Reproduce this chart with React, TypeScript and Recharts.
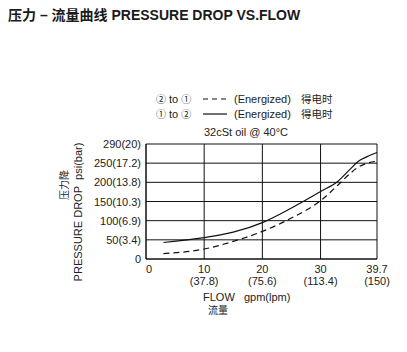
import React from "react";
import { LineChart, Line, XAxis, YAxis, CartesianGrid } from "recharts";

// flow (gpm) vs pressure drop (psi)
const flowGpm = [3, 10, 15, 20, 25, 30, 33, 35, 36.5, 38, 39.7];
const solidPsi = [43, 56, 70, 95, 133, 176, 203, 233, 255, 267, 278];
const dashedPsi = [14, 26, 46, 72, 107, 152, 193, 222, 240, 250, 255];

const xTicks = [0, 10, 20, 30, 39.7];
const xTickTop = ["0", "10", "20", "30", "39.7"];
const xTickBottom = ["", "(37.8)", "(75.6)", "(113.4)", "(150)"];

// the printed axis is evenly spaced; top line is labelled 290(20)
const yTicks = [0, 50, 100, 150, 200, 250, 300];
const yTickLabels = ["0", "50(3.4)", "100(6.9)", "150(10.3)", "200(13.8)", "250(17.2)", "290(20)"];

const data = flowGpm.map((f, i) => ({ flow: f, solid: solidPsi[i], dashed: dashedPsi[i] }));

const FONT = '"Liberation Sans", Arial, "Noto Sans CJK SC", sans-serif';
const CJK = '"Noto Sans CJK SC", "Liberation Sans", sans-serif';

const XTick = (props: any) => {
  const { x, y, payload } = props;
  const i = xTicks.indexOf(payload.value);
  return (
    <g>
      <text x={i === 0 ? x + 3 : x} y={y + 6} textAnchor="middle" fontSize={11} fill="#222" fontFamily={FONT}>
        {xTickTop[i]}
      </text>
      <text x={x} y={y + 18} textAnchor="middle" fontSize={11} fill="#222" fontFamily={FONT}>
        {xTickBottom[i]}
      </text>
    </g>
  );
};

const YTick = (props: any) => {
  const { x, y, payload } = props;
  const i = yTicks.indexOf(payload.value);
  return (
    <text x={x + 3} y={y + 4} textAnchor="end" fontSize={11} fill="#222" fontFamily={FONT}>
      {yTickLabels[i]}
    </text>
  );
};

const abs = (left: number, top: number, extra: any = {}) => ({
  position: "absolute" as const,
  left,
  top,
  fontFamily: FONT,
  fontSize: 11,
  color: "#222",
  whiteSpace: "nowrap" as const,
  lineHeight: "12px",
  ...extra,
});

const circled = { fontFamily: CJK, fontSize: 10, lineHeight: "10px" };

const LegendRow = ({ top, from, to, dashed }: { top: number; from: string; to: string; dashed: boolean }) => (
  <>
    <div style={abs(156, top)}>
      <span style={circled}>{from}</span> to <span style={circled}>{to}</span>
    </div>
    <svg style={{ position: "absolute", left: 203, top: top + 1 }} width={26} height={10}>
      <line x1={0} y1={5} x2={24} y2={5} stroke="#111" strokeWidth={1.2} strokeDasharray={dashed ? "5 4" : undefined} />
    </svg>
    <div style={abs(234, top)}>(Energized)</div>
    <div style={abs(301, top + 1, { fontFamily: CJK, fontSize: 10.5, lineHeight: "10px" })}>得电时</div>
  </>
);

export default function App() {
  return (
    <div style={{ position: "absolute", left: 0, top: 0, width: 407, height: 352, background: "#fff" }}>
      <div style={abs(8, 7, { fontSize: 14, fontWeight: "bold", color: "#1a1a1a", lineHeight: "16px" })}>
        压力 – 流量曲线 PRESSURE DROP VS.FLOW
      </div>

      <LegendRow top={93} from="②" to="①" dashed={true} />
      <LegendRow top={108} from="①" to="②" dashed={false} />
      <div style={abs(204, 126)}>32cSt oil @ 40°C</div>

      <LineChart
        width={407}
        height={352}
        data={data}
        margin={{ top: 144, right: 30, bottom: 63, left: 86 }}
        style={{ position: "absolute", left: 0, top: 0 }}
      >
        <CartesianGrid stroke="#111" strokeWidth={1} horizontalValues={yTicks} verticalValues={xTicks} />
        <XAxis
          dataKey="flow"
          type="number"
          domain={[0, 39.7]}
          ticks={xTicks}
          interval={0}
          height={30}
          axisLine={{ stroke: "#111" }}
          tickLine={false}
          tick={<XTick />}
        />
        <YAxis
          type="number"
          domain={[0, 300]}
          ticks={yTicks}
          interval={0}
          width={60}
          axisLine={{ stroke: "#111" }}
          tickLine={false}
          tick={<YTick />}
        />
        <Line type="monotone" dataKey="dashed" stroke="#111" strokeWidth={1.2} strokeDasharray="6 4" dot={false} isAnimationActive={false} />
        <Line type="monotone" dataKey="solid" stroke="#111" strokeWidth={1.2} dot={false} isAnimationActive={false} />
      </LineChart>

      <div style={abs(78, 212, { transform: "translate(-50%, -50%) rotate(-90deg)" })}>PRESSURE DROP&nbsp;&nbsp;psi(bar)</div>
      <div style={abs(64, 185, { fontFamily: CJK, fontSize: 10, lineHeight: "10px", transform: "translate(-50%, -50%) rotate(-90deg)" })}>压力降</div>

      <div style={abs(203, 292, { lineHeight: "11px" })}>FLOW&nbsp;&nbsp;&nbsp;gpm(lpm)</div>
      <div style={abs(208, 305, { fontFamily: CJK, fontSize: 10, lineHeight: "10px" })}>流量</div>
    </div>
  );
}
